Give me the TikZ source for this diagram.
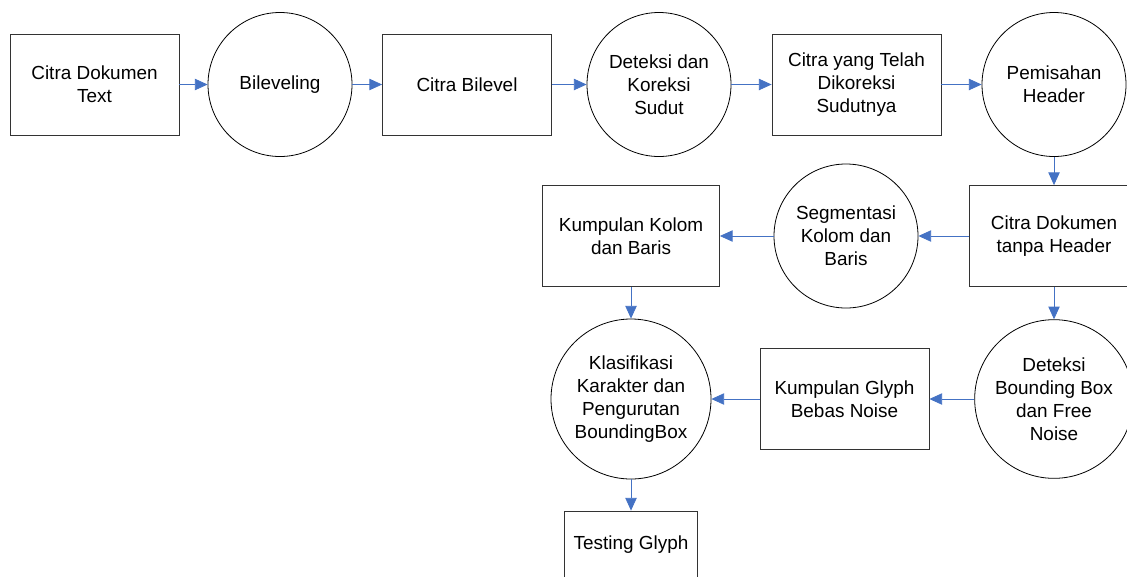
\documentclass[tikz,border=0pt]{standalone}
\usepackage{fontspec}
\setmainfont{Liberation Sans}
\usepackage{xcolor}
\usepackage{tikz}
\usetikzlibrary{arrows.meta, positioning}

\definecolor{flowblue}{HTML}{4472C4}

\begin{document}
\begin{tikzpicture}[
            x=0.75pt, y=-0.75pt,
            box/.style={rectangle, draw=black!80, line width=0.6pt, minimum width=126.75pt, minimum height=75.75pt, align=center, font=\fontsize{14.2}{17.3}\selectfont},
            proc/.style={circle, draw=black, line width=0.6pt, minimum size=108pt, inner sep=0pt, align=center, font=\fontsize{14.2}{17.3}\selectfont},
            flow/.style={-{Triangle[length=9.5pt, width=8.5pt]}, draw=flowblue, line width=0.6pt}
        ]
        \useasboundingbox (0,0) rectangle (1127,576);

        % Nodes (manual layout to match figure)
        \node[box] (doc) at (94.5, 84.5) {Citra Dokumen\\Text};
        \node[proc] (bilev) at (280, 84.5) {Bileveling};
        \node[box] (bilevel) at (467, 84.5) {Citra Bilevel};
        \node[proc] (sudut) at (659, 84.5) {Deteksi dan\\Koreksi\\Sudut};
        \node[box] (koreksi) at (856.5, 84.5) {Citra yang Telah\\Dikoreksi\\Sudutnya};
        \node[proc] (header) at (1054, 84.5) {Pemisahan\\Header};

        \node[box] (tanpa) at (1054, 236) {Citra Dokumen\\tanpa Header};
        \node[proc] (segmen) at (846, 236) {Segmentasi\\Kolom dan\\Baris};
        \node[box, minimum width=132.75pt] (kolom) at (631, 236) {Kumpulan Kolom\\dan Baris};

        \node[proc, minimum size=119pt] (bbox) at (1054, 399) {Deteksi\\Bounding Box\\dan Free\\Noise};
        \node[box] (glyph) at (844.5, 399) {Kumpulan Glyph\\Bebas Noise};
        \node[proc, minimum size=120pt] (klasif) at (631, 399) {Klasifikasi\\Karakter dan\\Pengurutan\\BoundingBox};

        \node[box, minimum width=99.75pt, minimum height=51pt] (testing) at (631, 545) {Testing Glyph};

        % Edges
        \draw[flow] (doc.east) -- (bilev.west);
        \draw[flow] (bilev.east) -- (bilevel.west);
        \draw[flow] (bilevel.east) -- (sudut.west);
        \draw[flow] (sudut.east) -- (koreksi.west);
        \draw[flow] (koreksi.east) -- (header.west);
        \draw[flow] (header.south) -- (tanpa.north);

        \draw[flow] (tanpa.west) -- (segmen.east);
        \draw[flow] (segmen.west) -- (kolom.east);
        \draw[flow] (kolom.south) -- (klasif.north);
        \draw[flow] (tanpa.south) -- (bbox.north);

        \draw[flow] (bbox.west) -- (glyph.east);
        \draw[flow] (glyph.west) -- (klasif.east);
        \draw[flow] (klasif.south) -- (testing.north);

    \end{tikzpicture}
\end{document}
